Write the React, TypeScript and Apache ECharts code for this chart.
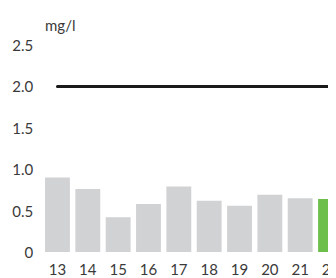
import React, { useEffect, useRef } from "react";
import * as echarts from "echarts";

const categories = ["13", "14", "15", "16", "17", "18", "19", "20", "21", "22"];
const values = [0.9, 0.76, 0.42, 0.58, 0.79, 0.62, 0.56, 0.69, 0.65, 0.64];
const limitValue = 2.0;
const limitLine = categories.map(() => limitValue);
const highlightIndex = 9;
const unitLabel = "mg/l";

export default function App() {
  const ref = useRef<HTMLDivElement>(null);
  useEffect(() => {
    if (!ref.current) return;
    const chart = echarts.init(ref.current, null, { renderer: "svg" });
    const font = "Lato, 'DejaVu Sans', sans-serif";
    const textColor = "#3a3a3a";
    chart.setOption({
      animation: false,
      grid: {
        left: 42.3,
        right: -9.7,
        top: 45,
        bottom: 26,
        containLabel: false,
        outerBoundsMode: "none",
      },
      graphic: [
        {
          type: "text",
          left: 45,
          top: 17,
          style: { text: unitLabel, fontSize: 15, fill: textColor, fontFamily: font },
        },
      ],
      xAxis: {
        type: "category",
        data: categories,
        axisLine: { show: false },
        axisTick: { show: false },
        axisLabel: { color: textColor, fontSize: 15, margin: 9, fontFamily: font, hideOverlap: false },
      },
      yAxis: {
        type: "value",
        min: 0,
        max: 2.5,
        interval: 0.5,
        splitLine: { show: false },
        axisLine: { show: false },
        axisTick: { show: false },
        axisLabel: {
          color: textColor,
          fontSize: 15,
          margin: 9,
          padding: [3, 0, 0, 0],
          fontFamily: font,
          formatter: (v: number) => (v === 0 ? "0" : v.toFixed(1)),
        },
      },
      series: [
        {
          type: "bar",
          data: values.map((v, i) => ({
            value: v,
            itemStyle: { color: i === highlightIndex ? "#6dbf4b" : "#d1d2d4" },
          })),
          barCategoryGap: "18%",
        },
        {
          type: "line",
          data: limitLine,
          symbol: "none",
          lineStyle: { color: "#1a1a1a", width: 3, cap: "round" },
        },
      ],
    });
    return () => chart.dispose();
  }, []);
  return <div ref={ref} style={{ width: 336, height: 278, marginLeft: -8, marginTop: -8 }} />;
}
